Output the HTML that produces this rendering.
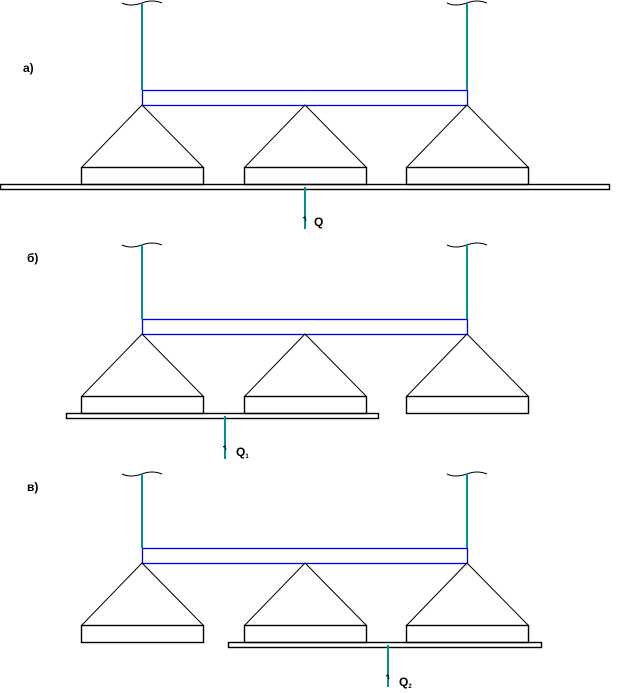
<!DOCTYPE html>
<html><head><style>body{margin:0;background:#fff}svg{display:block}text{font-family:"Liberation Sans",sans-serif;font-weight:bold;font-size:12px}</style></head>
<body>
<svg width="619" height="693" viewBox="0 0 619 693" xmlns="http://www.w3.org/2000/svg">
<defs>
<g id="unit" fill="none">
 <rect x="142.5" y="90.5" width="325" height="15" stroke="#0000ee" stroke-width="1.3"/>
 <g stroke="#000" stroke-width="1">
  <polyline points="81.5,167.5 142,105 203.5,167.5"/>
  <polyline points="244.5,167.5 305,105 366.5,167.5"/>
  <polyline points="406.5,167.5 467,105 528.5,167.5"/>
  <rect x="81.5" y="167.5" width="122" height="17" stroke-width="1.4"/>
  <rect x="244.5" y="167.5" width="122" height="17" stroke-width="1.4"/>
  <rect x="406.5" y="167.5" width="122" height="17" stroke-width="1.4"/>
 </g>
</g>
<g id="top" fill="none">
 <path d="M122,0 q8,4 20,0 q10,-4 20,0" stroke="#000" stroke-width="1"/>
 <path d="M447,0 q8,4 20,0 q10,-4 20,0" stroke="#000" stroke-width="1"/>
</g>
</defs>
<use href="#unit"/>
<use href="#unit" transform="translate(0,229)"/>
<use href="#unit" transform="translate(0,458)"/>
<use href="#top" transform="translate(0,3)"/>
<use href="#top" transform="translate(0,245)"/>
<use href="#top" transform="translate(0,474)"/>
<g stroke="#009090" stroke-width="2">
 <line x1="142" y1="3" x2="142" y2="90"/>
 <line x1="467" y1="3" x2="467" y2="90"/>
 <line x1="142" y1="245" x2="142" y2="319"/>
 <line x1="467" y1="245" x2="467" y2="319"/>
 <line x1="142" y1="474" x2="142" y2="548"/>
 <line x1="467" y1="474" x2="467" y2="548"/>
</g>
<g fill="none" stroke="#000" stroke-width="1.4">
 <rect x="0.5" y="184.5" width="609" height="5"/>
 <rect x="66.5" y="413.5" width="312" height="5"/>
 <rect x="228.5" y="642.5" width="313" height="5"/>
</g>
<g stroke="#009090" stroke-width="2">
 <line x1="305" y1="187" x2="305" y2="229"/>
 <line x1="225" y1="416" x2="225" y2="459"/>
 <line x1="388" y1="645" x2="388" y2="687"/>
</g>
<g stroke="#000" stroke-width="1" fill="none">
 <path d="M303,218 l2,-1 l1,4"/>
 <path d="M223,447 l2,-1 l1,4"/>
 <path d="M386,676 l2,-1 l1,4"/>
</g>
<text x="23" y="72">a)</text>
<text x="27" y="262">б)</text>
<text x="27" y="491">в)</text>
<text x="314" y="226">Q</text>
<text x="236" y="456">Q<tspan font-size="6" dy="2">1</tspan></text>
<text x="399" y="686">Q<tspan font-size="6" dy="2">2</tspan></text>
</svg>
</body></html>
